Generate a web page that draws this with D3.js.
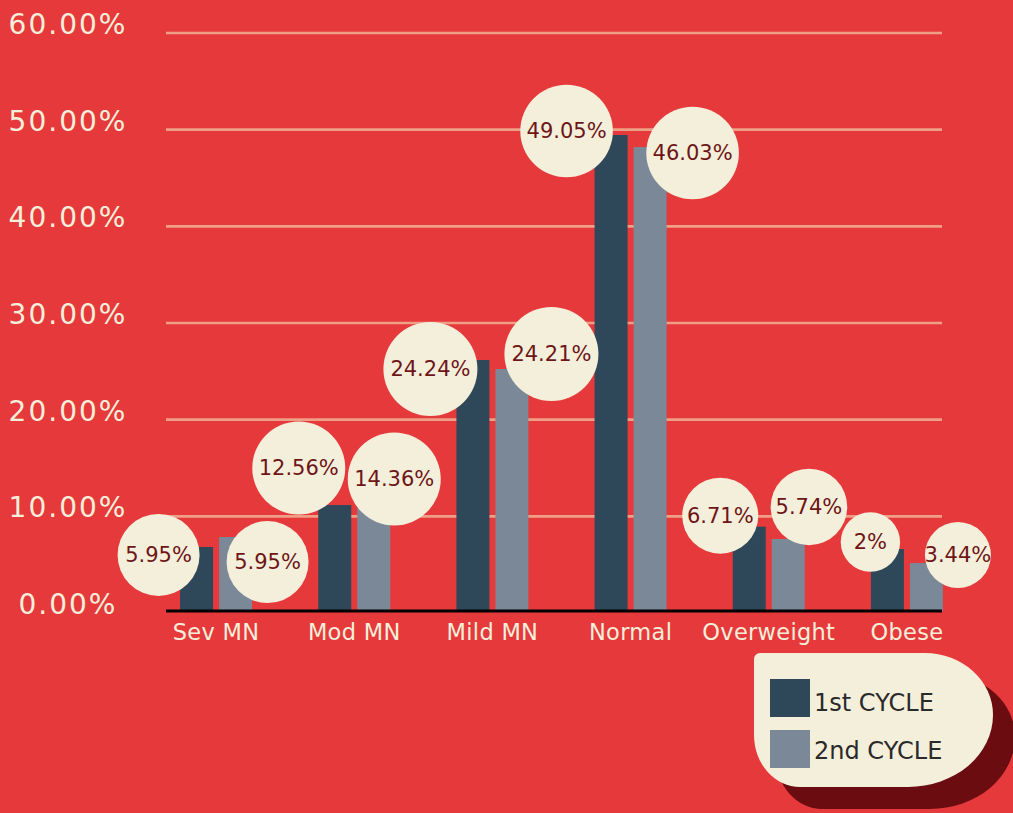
<!DOCTYPE html>
<html>
<head>
<meta charset="utf-8">
<script src="https://cdn.jsdelivr.net/npm/d3@7"></script>
<style>
  html, body { margin: 0; padding: 0; background: #E6393C; overflow: hidden; }
  svg { display: block; }
</style>
</head>
<body>
<svg id="chart" width="1013" height="813"></svg>
<script>
// ---- data ----
const categories = ["Sev MN", "Mod MN", "Mild MN", "Normal", "Overweight", "Obese"];
const seriesNames = ["1st CYCLE", "2nd CYCLE"];
// bar heights (percent) as drawn in the picture
const cycle1Values = [6.83, 11.17, 26.17, 49.45, 8.93, 6.62];
const cycle2Values = [7.86, 10.97, 25.24, 48.20, 7.66, 5.17];
// value labels shown in the bubbles
const cycle1Labels = ["5.95%", "12.56%", "24.24%", "49.05%", "6.71%", "2%"];
const cycle2Labels = ["5.95%", "14.36%", "24.21%", "46.03%", "5.74%", "3.44%"];
const tickValues = [0, 10, 20, 30, 40, 50, 60];
const tickLabels = ["0.00%", "10.00%", "20.00%", "30.00%", "40.00%", "50.00%", "60.00%"];

// ---- layout / style (separate from data) ----
const colors = { bg: "#E6393C", c1: "#2F4859", c2: "#7B8897", cream: "#F4EFDA",
                 grid: "#EF9F86", bubbleText: "#6E1518", shadow: "#6B0D10", legendText: "#2A2A2A" };
// bubble placement relative to each bar's top centre: [dx, dy, r]
const bubbleLayout1 = [[-38, 8, 41], [-36, -37, 46.5], [-42.5, 9, 47], [-44.5, -4, 46.3], [-29, -11, 38], [-17, -7, 29.7]];
const bubbleLayout2 = [[32, 25, 41], [20.5, -28, 46.5], [39.5, -15, 47], [42.5, 6, 46.3], [20.7, -32, 38.3], [31.5, -8, 33]];

const font = "'DejaVu Sans', sans-serif";
const svg = d3.select("#chart");
svg.append("rect").attr("width", 1013).attr("height", 813).attr("fill", colors.bg);

const y = d3.scaleLinear().domain([0, 60]).range([613, 33]);
const x0 = d3.scaleBand().domain(categories).range([147, 976]);
const groupW = 72;
const x1 = d3.scaleBand().domain(seriesNames).range([0, groupW]).paddingInner(0.154);
const gridX0 = 166, gridX1 = 942;

// gridlines
svg.append("g").selectAll("line").data(tickValues.filter(v => v > 0)).join("line")
  .attr("x1", gridX0).attr("x2", gridX1)
  .attr("y1", d => y(d)).attr("y2", d => y(d))
  .attr("stroke", colors.grid).attr("stroke-width", 2.7);

// y tick labels
svg.append("g").selectAll("text").data(tickValues).join("text")
  .attr("x", 68).attr("y", d => y(d) + 1)
  .attr("text-anchor", "middle")
  .attr("font-family", font).attr("font-size", 28).attr("letter-spacing", 2)
  .attr("fill", colors.cream)
  .text((d, i) => tickLabels[i]);

// bars
const rows = categories.map((c, i) => ({ cat: c, vals: [cycle1Values[i], cycle2Values[i]],
  labels: [cycle1Labels[i], cycle2Labels[i]], layout: [bubbleLayout1[i], bubbleLayout2[i]] }));
const groupOffset = (x0.bandwidth() - groupW) / 2;
const baseY = y(0) - 2;

const barG = svg.append("g");
rows.forEach(r => {
  r.vals.forEach((v, j) => {
    barG.append("rect")
      .attr("x", x0(r.cat) + groupOffset + x1(seriesNames[j]))
      .attr("y", y(v))
      .attr("width", x1.bandwidth())
      .attr("height", baseY - y(v))
      .attr("fill", j === 0 ? colors.c1 : colors.c2);
  });
});

// baseline
svg.append("line").attr("x1", gridX0).attr("x2", gridX1)
  .attr("y1", baseY).attr("y2", baseY)
  .attr("stroke", "#000").attr("stroke-width", 3);

// category labels
svg.append("g").selectAll("text").data(categories).join("text")
  .attr("x", d => x0(d) + x0.bandwidth() / 2)
  .attr("y", 640)
  .attr("text-anchor", "middle")
  .attr("font-family", font).attr("font-size", 22.5).attr("letter-spacing", 0.3)
  .attr("fill", colors.cream)
  .text(d => d);

// bubbles
const bubG = svg.append("g");
rows.forEach(r => {
  r.vals.forEach((v, j) => {
    const [dx, dy, rad] = r.layout[j];
    const cx = x0(r.cat) + groupOffset + x1(seriesNames[j]) + x1.bandwidth() / 2 + dx;
    const cy = y(v) + dy;
    bubG.append("circle").attr("cx", cx).attr("cy", cy).attr("r", rad).attr("fill", colors.cream);
    bubG.append("text").attr("x", cx).attr("y", cy)
      .attr("text-anchor", "middle").attr("dominant-baseline", "central")
      .attr("font-family", font).attr("font-size", 21).attr("fill", colors.bubbleText)
      .text(r.labels[j]);
  });
});

// legend
const legendPath = "M760,653 L925,653 A68,62 0 0 1 993,715 A85,72 0 0 1 908,787 L800,787 A46,52 0 0 1 754,735 L754,659 A6,6 0 0 1 760,653 Z";
const lg = svg.append("g");
lg.append("path").attr("d", legendPath).attr("fill", colors.shadow).attr("transform", "translate(22,22)");
lg.append("path").attr("d", legendPath).attr("fill", colors.cream);
seriesNames.forEach((s, i) => {
  lg.append("rect").attr("x", 770).attr("y", 679 + i * 51).attr("width", 40).attr("height", 38)
    .attr("fill", i === 0 ? colors.c1 : colors.c2);
  lg.append("text").attr("x", 814).attr("y", 711 + i * 47.5)
    .attr("font-family", font).attr("font-size", 24).attr("fill", colors.legendText)
    .text(s);
});
</script>
</body>
</html>
